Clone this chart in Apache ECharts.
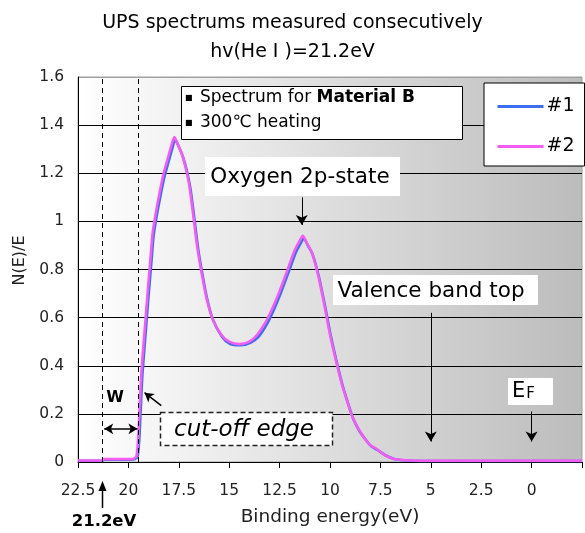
<!DOCTYPE html>
<html>
<head>
<meta charset="utf-8">
<script src="https://cdn.jsdelivr.net/npm/echarts@6/dist/echarts.min.js"></script>
<style>
  html, body { margin: 0; padding: 0; background: #fff; }
  #chart { width: 585px; height: 533px; }
</style>
</head>
<body>
<div id="chart"></div>
<script>
// UPS spectra, two consecutive measurements (#1 and #2)
const energy1 = [22.5, 21.3, 21.2, 20.5, 19.85, 19.65, 19.55, 19.5, 19.45, 19.4,
    19.35, 19.3, 19.15, 19.0, 18.85, 18.75, 18.6, 18.4, 18.2, 18.0,
    17.8, 17.68, 17.5, 17.3, 17.1, 16.93, 16.8, 16.68, 16.53, 16.35,
    16.1, 15.8, 15.35, 14.95, 14.45, 13.95, 13.55, 13.15, 12.8, 12.45,
    12.05, 11.7, 11.45, 11.3, 11.1, 10.85, 10.55, 10.25, 9.95, 9.65,
    9.35, 9.05, 8.85, 8.55, 8.25, 7.95, 7.65, 7.25, 6.85, 6.35,
    5.95, 5.0, 0, -2.5];
const intensity1 = [0.005, 0.005, 0.01, 0.01, 0.01, 0.013, 0.022, 0.05, 0.11, 0.2,
    0.29, 0.37, 0.53, 0.69, 0.84, 0.94, 1.02, 1.11, 1.19, 1.25,
    1.31, 1.34, 1.31, 1.27, 1.21, 1.14, 1.06, 0.98, 0.88, 0.79,
    0.68, 0.59, 0.52, 0.49, 0.485, 0.495, 0.52, 0.57, 0.63, 0.7,
    0.79, 0.87, 0.91, 0.93, 0.9, 0.86, 0.77, 0.65, 0.52, 0.41,
    0.31, 0.23, 0.18, 0.13, 0.095, 0.065, 0.05, 0.028, 0.014, 0.007,
    0.005, 0.004, 0.004, 0.004];

const energy2 = [22.5, 21.3, 21.2, 20.5, 19.9, 19.7, 19.6, 19.55, 19.5, 19.45,
    19.4, 19.35, 19.2, 19.05, 18.9, 18.8, 18.65, 18.45, 18.25, 18.05,
    17.85, 17.72, 17.55, 17.35, 17.15, 16.98, 16.85, 16.73, 16.58, 16.4,
    16.15, 15.85, 15.4, 15.0, 14.5, 14.0, 13.6, 13.2, 12.85, 12.5,
    12.1, 11.75, 11.5, 11.35, 11.15, 10.9, 10.6, 10.3, 10.0, 9.7,
    9.4, 9.1, 8.9, 8.6, 8.3, 8.0, 7.7, 7.3, 6.9, 6.4,
    6.0, 5.0, 0, -2.5];
const intensity2 = [0.006, 0.006, 0.012, 0.012, 0.012, 0.015, 0.025, 0.06, 0.12, 0.21,
    0.3, 0.38, 0.54, 0.7, 0.85, 0.95, 1.03, 1.12, 1.2, 1.26,
    1.32, 1.35, 1.32, 1.28, 1.22, 1.15, 1.07, 0.99, 0.89, 0.8,
    0.69, 0.6, 0.53, 0.5, 0.49, 0.5, 0.53, 0.58, 0.64, 0.71,
    0.8, 0.88, 0.92, 0.94, 0.91, 0.87, 0.78, 0.66, 0.53, 0.42,
    0.32, 0.24, 0.19, 0.14, 0.1, 0.07, 0.055, 0.03, 0.015, 0.008,
    0.006, 0.005, 0.005, 0.005];

const seriesNames = ['#1', '#2'];
const edgeLines = [21.3, 19.5];   // photon energy mark and cut-off edge

const FONT = '"DejaVu Sans", Verdana, sans-serif';

function zip(xs, ys) {
    return xs.map((x, i) => [x, ys[i]]);
}

const chart = echarts.init(document.getElementById('chart'));

// black grid lines, the top one (1.6) is the light plot border
const splitColors = ['#000', '#000', '#000', '#000', '#000', '#000', '#000', '#000', '#a0a0a0'];

const arrowStyle = { color: '#000', width: 1, type: 'solid' };

const option = {
    animation: false,
    title: {
        text: 'UPS spectrums measured consecutively\nhv(He I )=21.2eV',
        left: 'center',
        top: 4,
        textStyle: { fontFamily: FONT, fontSize: 19, fontWeight: 'normal', color: '#000', lineHeight: 29 }
    },
    grid: {
        left: 78, right: -1, top: 77, bottom: 71,
        show: true,
        borderColor: '#a0a0a0',
        borderWidth: 1,
        backgroundColor: new echarts.graphic.LinearGradient(0, 0, 1, 0, [
            { offset: 0, color: '#ffffff' },
            { offset: 1, color: '#bcbcbc' }
        ])
    },
    legend: {
        orient: 'vertical',
        left: 484, top: 83,
        data: seriesNames,
        backgroundColor: '#fff',
        borderColor: '#000',
        borderWidth: 1,
        padding: [14, 10, 10, 12],
        itemGap: 21,
        itemWidth: 46,
        itemHeight: 20,
        itemStyle: { opacity: 0 },
        lineStyle: { width: 3 },
        textStyle: { fontFamily: FONT, fontSize: 19, color: '#000', padding: [0, 0, 0, -2] }
    },
    xAxis: {
        type: 'value',
        inverse: true,
        min: -2.5, max: 22.5, interval: 2.5,
        name: 'Binding energy(eV)',
        nameLocation: 'middle',
        nameGap: 46,
        nameTextStyle: { fontFamily: FONT, fontSize: 18.5, color: '#222' },
        axisLine: { onZero: false, lineStyle: { color: '#000', width: 1 } },
        axisTick: { show: true, length: 6, lineStyle: { color: '#000' } },
        axisLabel: {
            fontFamily: FONT, fontSize: 15.5, color: '#222', margin: 21,
            showMinLabel: true, showMaxLabel: true,
            formatter: v => (v < 0 ? '' : String(v))
        },
        splitLine: { show: false }
    },
    yAxis: {
        type: 'value',
        min: 0, max: 1.6, interval: 0.2,
        name: 'N(E)/E',
        nameLocation: 'middle',
        nameGap: 50,
        nameTextStyle: { fontFamily: FONT, fontSize: 16, color: '#222', padding: [0, 0, 0, 18] },
        axisLine: { show: true, onZero: false, lineStyle: { color: '#000', width: 1 } },
        axisTick: { show: false },
        axisLabel: { fontFamily: FONT, fontSize: 15.5, color: '#222', margin: 14 },
        splitLine: { show: true, lineStyle: { color: splitColors, width: 1 } }
    },
    series: [
        {
            name: seriesNames[0],
            type: 'line',
            data: zip(energy1, intensity1),
            smooth: 0.25,
            showSymbol: false,
            symbol: 'none',
            z: 3,
            lineStyle: { color: '#3d6ef0', width: 2.6 },
            itemStyle: { color: '#3d6ef0' },
            markLine: {
                silent: true,
                symbol: 'none',
                label: { show: false },
                lineStyle: { color: '#000', width: 1, type: [5, 4] },
                data: [
                    { xAxis: edgeLines[0] },
                    { xAxis: edgeLines[1] },
                    // Oxygen 2p-state arrow
                    [{ coord: [11.4, 1.1], symbol: 'none', lineStyle: arrowStyle },
                     { coord: [11.4, 0.985], symbol: 'arrow', symbolSize: [9, 10] }],
                    // Valence band top arrow
                    [{ coord: [5, 0.62], symbol: 'none', lineStyle: arrowStyle },
                     { coord: [5, 0.085], symbol: 'arrow', symbolSize: [9, 10] }],
                    // Fermi level arrow
                    [{ coord: [0, 0.21], symbol: 'none', lineStyle: arrowStyle },
                     { coord: [0, 0.085], symbol: 'arrow', symbolSize: [9, 10] }],
                    // W double arrow
                    [{ coord: [21.2, 0.138], symbol: 'arrow', symbolSize: [8, 9], lineStyle: { color: '#000', width: 1.5, type: 'solid' } },
                     { coord: [19.55, 0.138], symbol: 'arrow', symbolSize: [8, 9] }],
                    // cut-off edge pointer
                    [{ coord: [18.37, 0.234], symbol: 'none', lineStyle: { color: '#000', width: 1.5, type: 'solid' } },
                     { coord: [19.2, 0.288], symbol: 'arrow', symbolSize: [8, 9] }]
                ]
            }
        },
        {
            name: seriesNames[1],
            type: 'line',
            data: zip(energy2, intensity2),
            smooth: 0.25,
            showSymbol: false,
            symbol: 'none',
            z: 4,
            lineStyle: { color: '#f45cf2', width: 2.6 },
            itemStyle: { color: '#f45cf2' }
        }
    ],
    graphic: [
        // info box
        { type: 'rect', shape: { x: 181.5, y: 86.5, width: 281, height: 53 },
          style: { fill: '#fff', stroke: '#000', lineWidth: 1 }, z: 10 },
        { type: 'text', left: 185, top: 89, z: 11,
          style: {
              text: '{s|■}{n| Spectrum for }{b|Material B}\n{s|■}{n| 300℃ heating}',
              rich: {
                  s: { fontFamily: FONT, fontSize: 8, color: '#000', lineHeight: 25, padding: [0, 2, 0, 0] },
                  n: { fontFamily: FONT, fontSize: 17, color: '#000', lineHeight: 25 },
                  b: { fontFamily: FONT, fontSize: 17, fontWeight: 'bold', color: '#000', lineHeight: 25 }
              }
          } },
        // Oxygen 2p-state label
        { type: 'rect', shape: { x: 205, y: 157, width: 195, height: 39 }, style: { fill: '#fff' }, z: 10 },
        { type: 'text', x: 300, y: 177, z: 11,
          style: { text: 'Oxygen 2p-state', fontFamily: FONT, fontSize: 21.5, fill: '#000', align: 'center', verticalAlign: 'middle' } },
        // Valence band top label
        { type: 'rect', shape: { x: 333, y: 275, width: 205, height: 30 }, style: { fill: '#fff' }, z: 10 },
        { type: 'text', x: 431, y: 291, z: 11,
          style: { text: 'Valence band top', fontFamily: FONT, fontSize: 21.5, fill: '#000', align: 'center', verticalAlign: 'middle' } },
        // Fermi level label
        { type: 'rect', shape: { x: 508, y: 378, width: 45, height: 27 }, style: { fill: '#fff' }, z: 10 },
        { type: 'text', x: 512, y: 392, z: 11,
          style: {
              text: '{e|E}{f|F}',
              verticalAlign: 'middle',
              rich: {
                  e: { fontFamily: FONT, fontSize: 21, color: '#000' },
                  f: { fontFamily: FONT, fontSize: 15, color: '#000', padding: [5, 0, 0, 1] }
              }
          } },
        // W
        { type: 'text', x: 115, y: 398, z: 11,
          style: { text: 'W', fontFamily: FONT, fontSize: 16, fontWeight: 'bold', fill: '#000', align: 'center', verticalAlign: 'middle' } },
        // cut-off edge dashed box
        { type: 'rect', shape: { x: 160.5, y: 412.5, width: 172, height: 33 },
          style: { fill: '#fff', stroke: '#222', lineWidth: 1.5, lineDash: [5, 3] }, z: 10 },
        { type: 'text', x: 244, y: 430, z: 11,
          style: { text: 'cut-off edge', fontFamily: FONT, fontSize: 23, fontStyle: 'italic', fill: '#000', align: 'center', verticalAlign: 'middle' } },
        // 21.2 eV marker under the axis
        { type: 'line', shape: { x1: 102.5, y1: 508, x2: 102.5, y2: 488 }, style: { stroke: '#000', lineWidth: 1.5 }, z: 11 },
        { type: 'polygon', shape: { points: [[102.5, 481], [98.5, 491], [106.5, 491]] }, style: { fill: '#000' }, z: 11 },
        { type: 'text', x: 104, y: 522, z: 11,
          style: { text: '21.2eV', fontFamily: FONT, fontSize: 16.5, fontWeight: 'bold', fill: '#000', align: 'center', verticalAlign: 'middle' } }
    ]
};

chart.setOption(option);
</script>
</body>
</html>
